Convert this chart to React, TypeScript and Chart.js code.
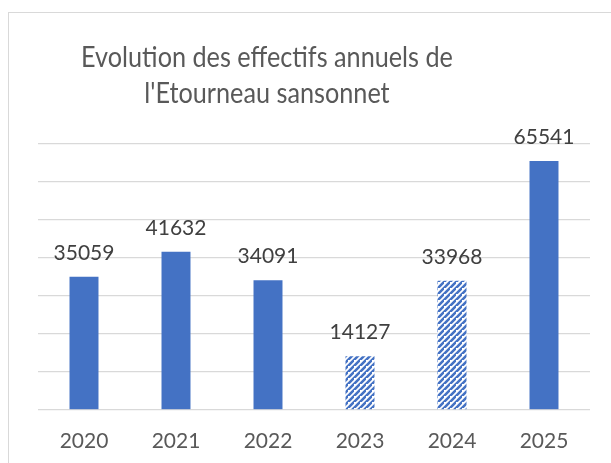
import React, { useEffect, useRef } from "react";
import { Chart, registerables } from "chart.js";

Chart.register(...registerables);

const categories = ["2020", "2021", "2022", "2023", "2024", "2025"];
const values = [35059, 41632, 34091, 14127, 33968, 65541];
const hatched = [false, false, false, true, true, false];
const titleLines = ["Evolution des effectifs annuels de", "l'Etourneau sansonnet"];

const BLUE = "#4472C4";
const FONT = "Lato, 'Open Sans', sans-serif";

function makeHatch(): CanvasPattern | string {
  const size = 6;
  const c = document.createElement("canvas");
  c.width = size;
  c.height = size;
  const ctx = c.getContext("2d");
  if (!ctx) return BLUE;
  ctx.fillStyle = "#ffffff";
  ctx.fillRect(0, 0, size, size);
  ctx.strokeStyle = BLUE;
  ctx.lineWidth = 2.6;
  ctx.beginPath();
  ctx.moveTo(-size, size * 2);
  ctx.lineTo(size * 2, -size);
  ctx.moveTo(-size * 2, size);
  ctx.lineTo(size, -size * 2);
  ctx.moveTo(0, size * 2);
  ctx.lineTo(size * 2, 0);
  ctx.stroke();
  const p = ctx.createPattern(c, "repeat");
  return p || BLUE;
}

const dataLabels = {
  id: "dataLabels",
  afterDatasetsDraw(chart: any) {
    const ctx = chart.ctx;
    const meta = chart.getDatasetMeta(0);
    ctx.save();
    ctx.font = `21px ${FONT}`;
    ctx.fillStyle = "#404040";
    ctx.textAlign = "center";
    ctx.textBaseline = "alphabetic";
    meta.data.forEach((bar: any, i: number) => {
      ctx.fillText(String(values[i]), bar.x, bar.y - 17);
    });
    ctx.restore();
  },
};

const offsetTitle = {
  id: "offsetTitle",
  afterDraw(chart: any) {
    const ctx = chart.ctx;
    titleLines.forEach((line, i) => {
      ctx.save();
      ctx.font = `29px ${FONT}`;
      ctx.fillStyle = "#595959";
      ctx.textAlign = "center";
      ctx.textBaseline = "alphabetic";
      ctx.translate(267, 67 + i * 36);
      ctx.scale(0.87, 1);
      ctx.fillText(line, 0, 0);
      ctx.restore();
    });
  },
};

export default function App() {
  const ref = useRef<HTMLCanvasElement | null>(null);
  useEffect(() => {
    if (!ref.current) return;
    const hatch = makeHatch();
    const chart = new Chart(ref.current, {
      type: "bar",
      data: {
        labels: categories,
        datasets: [
          {
            data: values,
            backgroundColor: hatched.map((h) => (h ? hatch : BLUE)),
            borderWidth: 0,
            categoryPercentage: 1,
            barPercentage: 0.315,
          },
        ],
      },
      options: {
        animation: false,
        responsive: false,
        layout: { padding: { left: 38, right: 21, top: 144, bottom: 5 } },
        plugins: {
          legend: { display: false },
          tooltip: { enabled: false },
          title: { display: false },
        },
        scales: {
          x: {
            grid: {
              display: true,
              drawOnChartArea: false,
              drawTicks: true,
              tickLength: 15,
              color: "rgba(0,0,0,0)",
            },
            border: { display: false },
            ticks: {
              color: "#595959",
              font: { family: FONT, size: 21 },
              padding: 4,
            },
          },
          y: {
            min: 0,
            max: 70000,
            grid: { color: "#d9d9d9", lineWidth: 1.3, drawTicks: false },
            border: { display: false },
            ticks: { display: false, stepSize: 10000 },
          },
        },
      },
      plugins: [dataLabels, offsetTitle],
    });
    return () => chart.destroy();
  }, []);
  return (
    <div style={{ position: "fixed", left: 0, top: 0, width: 611, height: 463, background: "#fff", overflow: "hidden" }}>
      <div
        style={{
          position: "absolute",
          left: 8,
          top: 12,
          width: 640,
          height: 500,
          border: "1px solid #d9d9d9",
          boxSizing: "border-box",
        }}
      />
      <canvas ref={ref} width={611} height={463} style={{ position: "absolute", left: 0, top: 0 }} />
    </div>
  );
}
